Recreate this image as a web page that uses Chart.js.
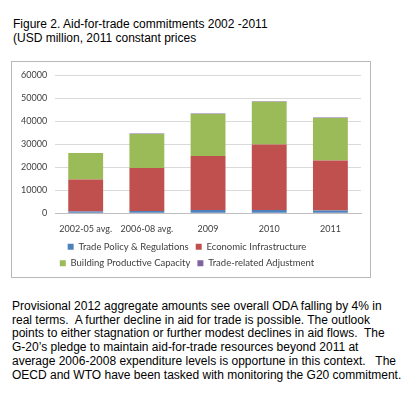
<!DOCTYPE html>
<html>
<head>
<meta charset="utf-8">
<script src="https://cdn.jsdelivr.net/npm/chart.js@4"></script>
<style>
  body { margin: 0; background: #fff; width: 408px; height: 400px; position: relative; overflow: hidden; }
  .title { position: absolute; left: 13px; top: 18px; font: 12px "Liberation Sans", Arial, sans-serif; line-height: 13.5px; color: #000; }
  .chart-box { position: absolute; left: 11px; top: 61px; width: 358px; height: 215px; border: 1px solid #b8b8b8; }
  .note { position: absolute; left: 12px; top: 300px; font: 12px "Liberation Sans", Arial, sans-serif; line-height: 13.7px; color: #000; white-space: nowrap; }
</style>
</head>
<body>
<div class="title">Figure 2. Aid-for-trade commitments 2002 -2011<br>(USD million, 2011 constant prices</div>
<div class="chart-box"><canvas id="aftChart"></canvas></div>
<div class="note">Provisional 2012 aggregate amounts see overall ODA falling by 4% in<br>real terms.&nbsp; A further decline in aid for trade is possible. The outlook<br>points to either stagnation or further modest declines in aid flows.&nbsp; The<br>G-20’s pledge to maintain aid-for-trade resources beyond 2011 at<br>average 2006-2008 expenditure levels is opportune in this context.&nbsp;&nbsp; The<br>OECD and WTO have been tasked with monitoring the G20 commitment.</div>

<script>
// values (USD million)
const categories = ['2002-05 avg.', '2006-08 avg.', '2009', '2010', '2011'];
const tradePolicy = [700, 1000, 1400, 1400, 1200];
const economicInfra = [14000, 18700, 23500, 28500, 21800];
const buildingCapacity = [11500, 14800, 18300, 18600, 18400];
const tradeAdjustment = [0, 150, 200, 250, 250];
const yTicks = [0, 10000, 20000, 30000, 40000, 50000, 60000];

const tickFont = { family: 'Lato, "Open Sans", sans-serif', size: 9 };
const legendFont = { family: 'Lato, "Open Sans", sans-serif', size: 9.5 };
const textColor = '#404040';

function initializeChart() {
  const ctx = document.getElementById('aftChart');
  new Chart(ctx.getContext('2d'), {
    type: 'bar',
    data: {
      labels: categories,
      datasets: [
        { label: 'Trade Policy & Regulations', data: tradePolicy, backgroundColor: '#4F81BD' },
        { label: 'Economic Infrastructure', data: economicInfra, backgroundColor: '#C0504D' },
        { label: 'Building Productive Capacity', data: buildingCapacity, backgroundColor: '#9BBB59' },
        { label: 'Trade-related Adjustment', data: tradeAdjustment, backgroundColor: '#8064A2' }
      ]
    },
    options: {
      responsive: true,
      maintainAspectRatio: false,
      animation: false,
      datasets: { bar: { categoryPercentage: 1, barPercentage: 0.57, borderWidth: 0 } },
      layout: { padding: { top: 1, left: 1, right: 9, bottom: -1 } },
      scales: {
        x: {
          stacked: true,
          grid: { display: false },
          border: { color: '#bfbfbf' },
          ticks: { font: tickFont, color: textColor, padding: 2, maxRotation: 0, minRotation: 0, autoSkip: false },
          afterFit: axis => { axis.height -= 1; } // keep legend tight under the labels
        },
        y: {
          stacked: true,
          min: 0,
          max: 60000,
          afterBuildTicks: axis => { axis.ticks = yTicks.map(v => ({ value: v })); },
          grid: { color: '#d9d9d9', drawTicks: false },
          border: { display: false },
          ticks: { font: tickFont, color: textColor, padding: 8, callback: v => String(v) }
        }
      },
      plugins: {
        legend: {
          position: 'bottom',
          labels: { font: legendFont, color: textColor, boxWidth: 6, boxHeight: 6, padding: 7 }
        },
        tooltip: { enabled: false }
      }
    }
  });
}

document.addEventListener('DOMContentLoaded', initializeChart);
</script>
</body>
</html>
